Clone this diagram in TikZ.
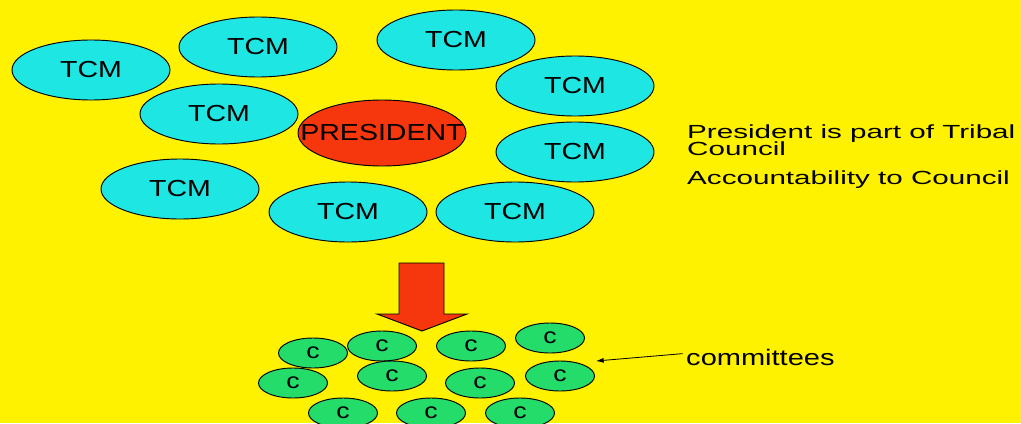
\documentclass[tikz,border=0pt]{standalone}
\usepackage{fontspec}
\setmainfont{Liberation Sans}
\newfontfamily\tcmfont{Liberation Sans}[FakeStretch=1.23]
\newfontfamily\cfont{Liberation Sans}[FakeStretch=1.22]
\newfontfamily\comfont{Liberation Sans}[FakeStretch=1.29]
\newfontfamily\notefont{Liberation Sans}[FakeStretch=1.56]
\usetikzlibrary{shapes.geometric, arrows.meta}
\definecolor{slidebg}{RGB}{255,242,0}
\definecolor{tcmcyan}{RGB}{30,230,226}
\definecolor{presred}{RGB}{246,54,12}
\definecolor{comgreen}{RGB}{36,220,106}

\begin{document}
\begin{tikzpicture}[
		x=0.03cm,
		y=-0.03cm,
		>={Latex[length=2.3mm, width=1.5mm]},
		tcm/.style={ellipse, draw, line width=0.8pt, fill=tcmcyan, minimum width=4.74cm, minimum height=1.8cm, inner sep=0pt, font=\tcmfont\fontsize{19.8}{22}\selectfont},
		pres/.style={ellipse, draw, line width=0.8pt, fill=presred, minimum width=5.04cm, minimum height=1.98cm, inner sep=0pt},
		cbox/.style={ellipse, draw, line width=0.8pt, fill=comgreen, minimum width=2.07cm, minimum height=0.9cm, inner sep=0pt, font=\cfont\fontsize{18.6}{20}\selectfont},
		note/.style={anchor=base west, inner sep=0pt, font=\notefont\fontsize{16.2}{17}\selectfont}
	]
		\fill[slidebg] (0,0) rectangle (1021,423);
		\useasboundingbox (0,0) rectangle (1021,423);

		% tribal council members
		\node[tcm] (tcmA) at (91,70)   {TCM};
		\node[tcm] (tcmB) at (258,47)  {TCM};
		\node[tcm] (tcmC) at (456,40)  {TCM};
		\node[tcm] (tcmD) at (575,86)  {TCM};
		\node[tcm] (tcmE) at (219,114) {TCM};
		\node[tcm] (tcmF) at (575,152) {TCM};
		\node[tcm] (tcmG) at (180,189) {TCM};
		\node[tcm] (tcmH) at (348,212) {TCM};
		\node[tcm] (tcmI) at (515,212) {TCM};

		\node[pres, label={[font=\tcmfont\fontsize{19.8}{22}\selectfont]center:PRESIDENT}] (president) at (382,133) {};

		\node[note] (noteA) at (687,138) {President is part of Tribal};
		\node[note] (noteB) at (687,155) {Council};
		\node[note] (noteC) at (687,184) {Accountability to Council};

		% arrow down to committees
		\draw[line width=0.8pt, fill=presred] (399,263) -- (444,263) -- (444,314) -- (467,314) -- (422,331) -- (377,314) -- (399,314) -- cycle;

		% committees
		\node[cbox] (comA) at (313,353) {c};
		\node[cbox] (comB) at (382,346) {c};
		\node[cbox] (comC) at (471,346) {c};
		\node[cbox] (comD) at (550,338) {c};
		\node[cbox] (comE) at (293,383) {c};
		\node[cbox] (comF) at (392,376) {c};
		\node[cbox] (comG) at (480,383) {c};
		\node[cbox] (comH) at (560,376) {c};
		\node[cbox] (comI) at (343,413) {c};
		\node[cbox] (comJ) at (431,413) {c};
		\node[cbox] (comK) at (520,413) {c};

		\node[anchor=base west, inner sep=0pt, font=\comfont\fontsize{19.2}{21}\selectfont] (comlabel) at (686,365) {committees};
		\coordinate (comtip) at (596,361);
		\draw[->, line width=0.7pt] ([xshift=-0.1cm, yshift=0.1cm]comlabel.west) -- (comtip);
	\end{tikzpicture}
\end{document}
